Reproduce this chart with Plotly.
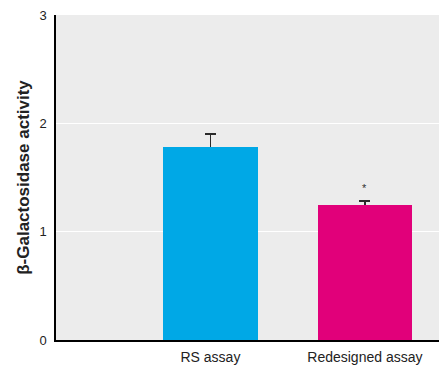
import plotly.graph_objects as go

categories = ["RS assay", "Redesigned assay"]
values = [1.78, 1.25]
errors = [0.12, 0.03]
colors = ["#00a8e6", "#e1007a"]
yticks = [0, 1, 2, 3]
positions = [1, 2]

fig = go.Figure()
# bars carrying the upward error bars (lower cap hidden inside the bar)
fig.add_trace(go.Bar(
    x=positions, y=values, width=0.61,
    marker=dict(color=colors, line=dict(width=0)),
    error_y=dict(type="data", array=errors, symmetric=False, arrayminus=errors,
                 color="#2a2a2a", thickness=1.8, width=5.5),
    showlegend=False, hoverinfo="skip",
))
# same bars drawn on top to cover the lower part of the error bars
fig.add_trace(go.Bar(
    x=positions, y=values, width=0.61,
    marker=dict(color=colors, line=dict(width=0)),
    showlegend=False,
))
fig.add_annotation(x=2, y=1.40, text="*", showarrow=False,
                   font=dict(size=11, color="#333333"), yanchor="middle")

font_family = "Liberation Sans, Arial, sans-serif"
fig.update_layout(
    width=439, height=368,
    margin=dict(l=56, r=0, t=15, b=28),
    paper_bgcolor="white", plot_bgcolor="#ececec",
    font=dict(family=font_family, size=14, color="#222222"),
    barmode="overlay", bargap=0,
)
fig.update_xaxes(range=[0, 2.48], tickvals=positions, ticktext=categories,
                 showline=True, linecolor="black", linewidth=1.5,
                 showgrid=False, zeroline=False, ticks="", ticklabelstandoff=3,
                 tickfont=dict(size=14, family=font_family))
fig.update_yaxes(range=[0, 3], tickvals=yticks, showline=True, linecolor="black",
                 linewidth=1.5, showgrid=True, gridcolor="white", gridwidth=1,
                 zeroline=False, ticks="", ticklen=0, ticklabelstandoff=5,
                 tickfont=dict(size=13, family=font_family),
                 title=dict(text="<b>β-Galactosidase activity</b>",
                            font=dict(size=17, family=font_family), standoff=5))
fig.write_html("out.html", config={"displayModeBar": False},
               post_script="document.body.style.margin='0';")
